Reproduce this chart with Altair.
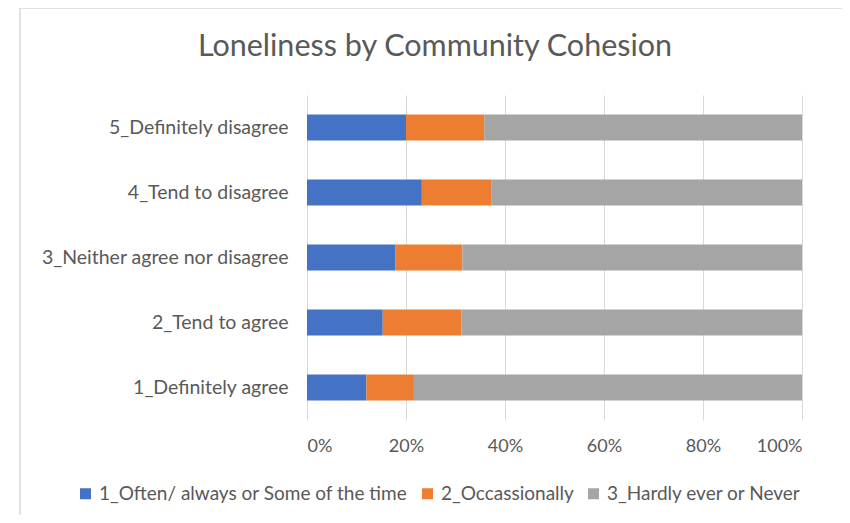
import altair as alt
import pandas as pd

categories = ["5_Definitely disagree", "4_Tend to disagree", "3_Neither agree nor disagree",
              "2_Tend to agree", "1_Definitely agree"]
series = ["1_Often/ always or Some of the time", "2_Occassionally", "3_Hardly ever or Never"]
often = [20.0, 23.2, 17.8, 15.3, 12.0]
occasionally = [15.8, 14.0, 13.6, 15.9, 9.6]
hardly = [64.2, 62.8, 68.6, 68.8, 78.4]
colors = ["#4472C4", "#ED7D31", "#A5A5A5"]
title_text = "Loneliness by Community Cohesion"

rows = []
for i, c in enumerate(categories):
    for j, (s, vals) in enumerate(zip(series, [often, occasionally, hardly])):
        rows.append({"cat": c, "series": s, "order": j, "value": vals[i] / 100})
df = pd.DataFrame(rows)

FONT = "Lato"
TXT = "#595959"

bars = alt.Chart(df).mark_bar().encode(
    y=alt.Y("cat:N", sort=categories,
            scale=alt.Scale(paddingInner=0.6, paddingOuter=0.3),
            axis=alt.Axis(title=None, ticks=False, domain=False, labelFontSize=19.5,
                          labelColor=TXT, labelFont=FONT, labelPadding=19, labelLimit=400)),
    x=alt.X("value:Q", stack="zero",
            scale=alt.Scale(domain=[0, 1], nice=False),
            axis=alt.Axis(title=None, format=".0%", values=[0, 0.2, 0.4, 0.6, 0.8, 1.0],
                          ticks=False, domain=False, grid=True, gridColor="#D9D9D9",
                          labelFontSize=18, labelColor=TXT, labelFont=FONT, labelPadding=17)),
    color=alt.Color("series:N", sort=series,
                    scale=alt.Scale(domain=series, range=colors),
                    legend=alt.Legend(title=None, orient="none", direction="horizontal",
                                      legendX=-231, legendY=389, symbolType="square",
                                      symbolSize=121, symbolStrokeWidth=0,
                                      labelFontSize=19, labelColor=TXT, labelFont=FONT,
                                      columnPadding=10, labelOffset=4, labelLimit=400)),
    order=alt.Order("order:Q"),
)

frame = alt.Chart(pd.DataFrame({"a": [0]})).mark_rect(
    fill=None, stroke="#D9D9D9", strokeWidth=1.5, clip=False
).encode(
    x=alt.value(-287), x2=alt.value(541), y=alt.value(-87), y2=alt.value(440)
)

title = alt.Chart(pd.DataFrame({"t": [title_text]})).mark_text(
    font=FONT, fontSize=30.5, color=TXT, align="center", baseline="alphabetic"
).encode(text="t:N", x=alt.value(128), y=alt.value(-39))

chart = alt.layer(frame, bars, title).properties(
    width=495, height=325,
    autosize=alt.AutoSizeParams(type="none"),
    padding={"left": 299, "top": 87, "right": 40, "bottom": 95},
).configure_view(stroke=None)

chart.save("out.html", embed_options={"renderer": "svg", "actions": False})
